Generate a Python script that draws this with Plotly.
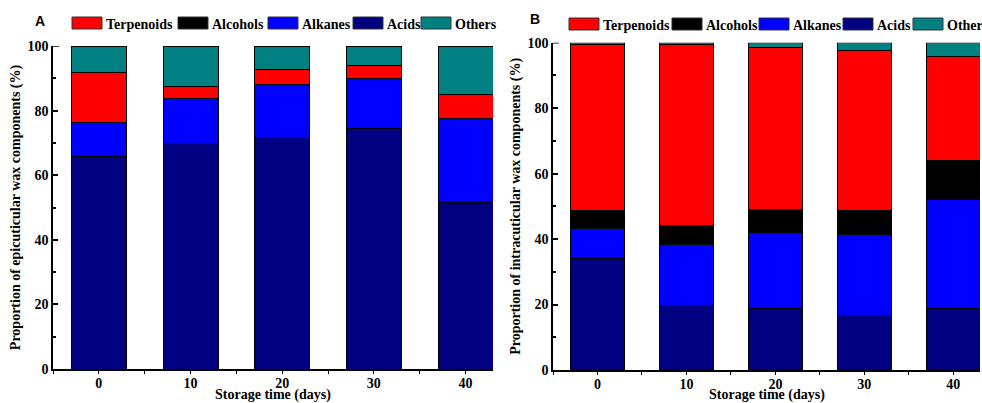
import plotly.graph_objects as go

days = ["0", "10", "20", "30", "40"]
series_names = ["Acids", "Alkanes", "Alcohols", "Terpenoids", "Others"]
legend_order = ["Terpenoids", "Alcohols", "Alkanes", "Acids", "Others"]
colors = {"Terpenoids": "#FF0000", "Alcohols": "#000000", "Alkanes": "#0000FF",
          "Acids": "#000080", "Others": "#008080"}

# Panel A: epicuticular wax (%), stacked bottom -> top
epi_acids = [65.7, 69.8, 71.8, 74.5, 51.7]
epi_alkanes = [10.6, 13.9, 16.2, 15.3, 25.8]
epi_alcohols = [0.0, 0.0, 0.0, 0.0, 0.0]
epi_terpenoids = [15.4, 3.8, 4.8, 4.3, 7.5]
epi_others = [8.3, 12.5, 7.2, 5.9, 15.0]

# Panel B: intracuticular wax (%)
intra_acids = [34.2, 19.7, 18.8, 16.6, 18.8]
intra_alkanes = [8.9, 18.6, 23.2, 24.8, 33.2]
intra_alcohols = [5.6, 5.9, 7.1, 7.3, 12.0]
intra_terpenoids = [50.7, 55.2, 49.3, 49.0, 31.9]
intra_others = [0.6, 0.6, 1.6, 2.3, 4.1]

epi = dict(zip(series_names, [epi_acids, epi_alkanes, epi_alcohols, epi_terpenoids, epi_others]))
intra = dict(zip(series_names, [intra_acids, intra_alkanes, intra_alcohols, intra_terpenoids, intra_others]))

FONT = "'Liberation Serif', 'Times New Roman', Times, serif"
xpos = list(range(len(days)))
x_title = "Storage time (days)"

fig = go.Figure()
for data, xa, ya in [(epi, "x", "y"), (intra, "x2", "y2")]:
    for name in series_names:
        fig.add_trace(go.Bar(
            x=xpos, y=data[name], name=name, xaxis=xa, yaxis=ya,
            width=0.6, marker=dict(color=colors[name], line=dict(color="black", width=1)),
            showlegend=False))

def xaxis_cfg(domain, anchor):
    return dict(domain=domain, anchor=anchor, range=[-0.5, 4.3], automargin=False,
                tickvals=xpos, ticktext=["<b>%s</b>" % d for d in days],
                showline=True, linecolor="black", linewidth=1.5,
                ticks="outside", ticklen=3, tickcolor="black", tickwidth=1,
                ticklabelstandoff=-3,
                minor=dict(ticks="outside", ticklen=3, tick0=0.5, dtick=1, tickcolor="black"),
                tickfont=dict(family=FONT, size=14, color="black"),
                showgrid=False, zeroline=False)

def yaxis_cfg(domain, anchor, title):
    return dict(domain=domain, anchor=anchor, range=[0, 100], automargin=False,
                tickvals=[0, 20, 40, 60, 80, 100],
                ticktext=["<b>%d</b>" % v for v in [0, 20, 40, 60, 80, 100]],
                showline=True, linecolor="black", linewidth=1.5,
                ticks="inside", ticklen=5, tickwidth=1.5, tickcolor="black",
                minor=dict(ticks="inside", ticklen=3, tickvals=[10, 30, 50, 70, 90], tickcolor="black"),
                tickfont=dict(family=FONT, size=14, color="black"),
                showgrid=False, zeroline=False,
                title=dict(text="<b>%s</b>" % title, standoff=4,
                           font=dict(family=FONT, size=14, color="black")))

fig.update_layout(
    width=982, height=403, autosize=False,
    margin=dict(l=0, r=0, t=0, b=0, autoexpand=False),
    plot_bgcolor="white", paper_bgcolor="white",
    barmode="stack", showlegend=False,
    xaxis=xaxis_cfg([53 / 982, 493 / 982], "y"),
    yaxis=yaxis_cfg([34 / 403, 357 / 403], "x", "Proportion of epicuticular wax components (%)"),
    xaxis2=xaxis_cfg([553 / 982, 980 / 982], "y2"),
    yaxis2=yaxis_cfg([33 / 403, 360.3 / 403], "x2", "Proportion of intracuticular wax components (%)"),
)

# x-axis titles
for xr in ["x domain", "x2 domain"]:
    fig.add_annotation(text="<b>%s</b>" % x_title, xref=xr, yref="paper", x=0.5, y=1 - 395 / 403,
                       xanchor="center", yanchor="middle", showarrow=False,
                       font=dict(family=FONT, size=14, color="black"))

# small top-left ticks at 100
for xr, yr in [("x domain", "y"), ("x2 domain", "y2")]:
    fig.add_shape(type="line", xref=xr, yref=yr, x0=0, x1=0.014, y0=100, y1=100,
                  line=dict(color="black", width=1.5))

# panel letters
fig.add_annotation(text="<b>A</b>", xref="paper", yref="paper", x=40 / 982, y=1 - 21 / 403,
                   xanchor="center", yanchor="middle", showarrow=False,
                   font=dict(family="Liberation Sans", size=14, color="black"))
fig.add_annotation(text="<b>B</b>", xref="paper", yref="paper", x=535 / 982, y=1 - 19 / 403,
                   xanchor="center", yanchor="middle", showarrow=False,
                   font=dict(family="Liberation Sans", size=14, color="black"))

# custom legends (wide swatches)
legend_specs = [
    (23, [72, 178, 268, 353, 421]),
    (24, [569, 672, 759, 843, 913]),
]
for yc, starts in legend_specs:
    for name, x0 in zip(legend_order, starts):
        fig.add_shape(type="rect", xref="paper", yref="paper",
                      x0=x0 / 982, x1=(x0 + 30) / 982,
                      y0=1 - (yc + 6) / 403, y1=1 - (yc - 6) / 403,
                      fillcolor=colors[name], line=dict(color="#333333", width=1))
        fig.add_annotation(text="<b>%s</b>" % name, xref="paper", yref="paper",
                           x=(x0 + 32) / 982, y=1 - (yc + 1) / 403, xanchor="left", yanchor="middle",
                           showarrow=False,
                           font=dict(family=FONT, size=14, color="black"))

fig.write_html("out.html", config={"displayModeBar": False},
               post_script="document.body.style.margin='0';document.body.style.overflow='hidden';")
